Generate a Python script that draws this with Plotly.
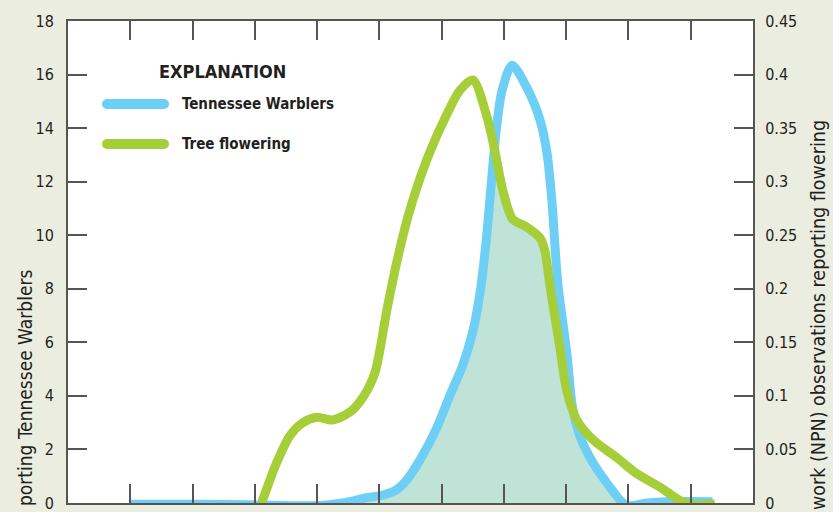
import numpy as np
import plotly.graph_objects as go

# Tennessee Warblers (left axis)
warbler_x = [1.0, 2.12, 2.92, 4.0, 4.41, 4.80, 5.06, 5.28, 5.44, 5.65, 5.92, 6.13, 6.34, 6.50, 6.62,
             6.72, 6.80, 6.88, 6.97, 7.13, 7.37, 7.58, 7.69, 7.77, 7.82, 7.87, 8.01, 8.10, 8.22, 8.43,
             8.70, 8.91, 9.02, 9.29, 9.66, 10.35]
warbler_y = [-0.05, -0.05, -0.07, -0.1, 0.0, 0.2, 0.3, 0.5, 0.86, 1.6, 2.8, 4.0, 5.15, 6.4, 7.9,
             9.9, 12.0, 14.0, 15.4, 16.35, 15.5, 14.3, 13.1, 11.3, 9.6, 8.1, 5.6, 3.6, 2.5, 1.5,
             0.6, 0.0, -0.1, 0.0, 0.05, 0.05]

# Tree flowering (right axis)
flower_x = [3.11, 3.35, 3.56, 3.77, 4.00, 4.25, 4.53, 4.74, 4.93, 5.12, 5.28, 5.46, 5.62,
            5.81, 6.08, 6.29, 6.50, 6.73, 6.85, 6.98, 7.14, 7.37, 7.58, 7.66, 7.74, 7.90, 8.01,
            8.17, 8.43, 8.81, 9.13, 9.50, 9.87, 10.14, 10.39]
flower_y = [0.0, 0.0375, 0.0625, 0.075, 0.08, 0.0775, 0.085, 0.099, 0.122, 0.18, 0.225,
            0.2675, 0.2975, 0.3275, 0.3625, 0.385, 0.395, 0.36, 0.33, 0.2925, 0.265, 0.2575, 0.2475,
            0.235, 0.2025, 0.145, 0.105, 0.0775, 0.059, 0.0425, 0.0275, 0.015, 0.001, -0.002, -0.001]

left_ticks = list(range(0, 19, 2))
right_ticks = [0, 0.05, 0.1, 0.15, 0.2, 0.25, 0.3, 0.35, 0.4, 0.45]
x_ticks = list(range(1, 11))

LEFT_MAX, RIGHT_MAX = 18, 0.45
scale = LEFT_MAX / RIGHT_MAX

BLUE = "#6dcff6"
GREEN = "#a6ce39"
FILL = "#bfe3d6"
AXIS = "#555555"
BG = "#eaeddf"
TXT = "#231f20"
FONT = "DejaVu Sans Condensed, Liberation Sans Narrow, sans-serif"

# overlap (area under both curves) on a fine grid
grid = np.linspace(min(warbler_x[0], flower_x[0]), max(warbler_x[-1], flower_x[-1]), 800)
wb = np.interp(grid, warbler_x, warbler_y, left=0, right=0)
fl = np.interp(grid, flower_x, np.array(flower_y) * scale, left=0, right=0)
overlap = np.clip(np.minimum(wb, fl), 0, None)

fig = go.Figure()
fig.add_trace(go.Scatter(x=grid, y=overlap, mode="lines", line=dict(width=0, color=FILL),
                         fill="tozeroy", fillcolor=FILL, showlegend=False, hoverinfo="skip"))
fig.add_trace(go.Scatter(x=warbler_x, y=warbler_y, mode="lines", name="Tennessee Warblers",
                         line=dict(color=BLUE, width=9, shape="spline", smoothing=0.8),
                         cliponaxis=False, showlegend=False))
fig.add_trace(go.Scatter(x=flower_x, y=flower_y, mode="lines", name="Tree flowering", yaxis="y2",
                         line=dict(color=GREEN, width=9, shape="spline", smoothing=0.8),
                         cliponaxis=False, showlegend=False))

L, R, T, B = 68, 80, 21, 9
W, H = 833, 512
pw, ph = W - L - R, H - T - B

def px(xp):
    return (xp - L) / pw

def py(yp):
    return (H - B - yp) / ph

shapes = []
annotations = []
legend_items = [("Tennessee Warblers", BLUE, 104), ("Tree flowering", GREEN, 144)]
for label, col, yp in legend_items:
    shapes.append(dict(type="line", xref="paper", yref="paper", x0=px(107), x1=px(164),
                       y0=py(yp), y1=py(yp), line=dict(color=col, width=10)))
    for cx in (107, 164):
        shapes.append(dict(type="circle", xref="paper", yref="paper", xsizemode="pixel",
                           ysizemode="pixel", xanchor=px(cx), yanchor=py(yp),
                           x0=-5, x1=5, y0=-5, y1=5, fillcolor=col, line=dict(width=0)))
    annotations.append(dict(text="<b>%s</b>" % label, xref="paper", yref="paper", x=px(180),
                            y=py(yp), xanchor="left", yanchor="middle", showarrow=False,
                            font=dict(family=FONT, size=15, color=TXT)))
annotations.append(dict(text="<b>EXPLANATION</b>", xref="paper", yref="paper", x=px(222), y=py(72),
                        xanchor="center", yanchor="middle", showarrow=False,
                        font=dict(family=FONT, size=18, color=TXT)))
annotations.append(dict(text="porting Tennessee Warblers", xref="paper", yref="paper",
                        x=px(25), y=py(268), xanchor="center", yanchor="top", textangle=-90,
                        showarrow=False, font=dict(family=FONT, size=19, color=TXT)))
annotations.append(dict(text="work (NPN) observations reporting flowering", xref="paper", yref="paper",
                        x=px(818), y=py(118), xanchor="center", yanchor="top", textangle=-90,
                        showarrow=False, font=dict(family=FONT, size=19.5, color=TXT)))

axis_common = dict(showgrid=False, zeroline=False, ticks="inside", ticklen=19, tickwidth=2,
                   tickcolor=AXIS, showline=True, linecolor=AXIS, linewidth=2, automargin=False,
                   tickfont=dict(family=FONT, size=16, color=TXT))

fig.update_layout(
    width=W, height=H, margin=dict(l=L, r=R, t=T, b=B, autoexpand=False),
    paper_bgcolor=BG, plot_bgcolor="white",
    showlegend=False,
    xaxis=dict(range=[0, 11], tickvals=x_ticks, showticklabels=False, mirror="ticks",
               **{k: v for k, v in axis_common.items() if k != "tickfont"}),
    yaxis=dict(range=[0, LEFT_MAX], tickvals=left_ticks, ticklabelstandoff=9,
               ticklabeloverflow="allow", **axis_common),
    yaxis2=dict(range=[0, RIGHT_MAX], tickvals=right_ticks, overlaying="y", side="right",
                ticklabelstandoff=7, ticklabeloverflow="allow", **axis_common),
    shapes=shapes, annotations=annotations,
)

fig.write_html("out.html", config={"displayModeBar": False},
               post_script="document.body.style.margin='0';document.body.style.overflow='hidden';")
